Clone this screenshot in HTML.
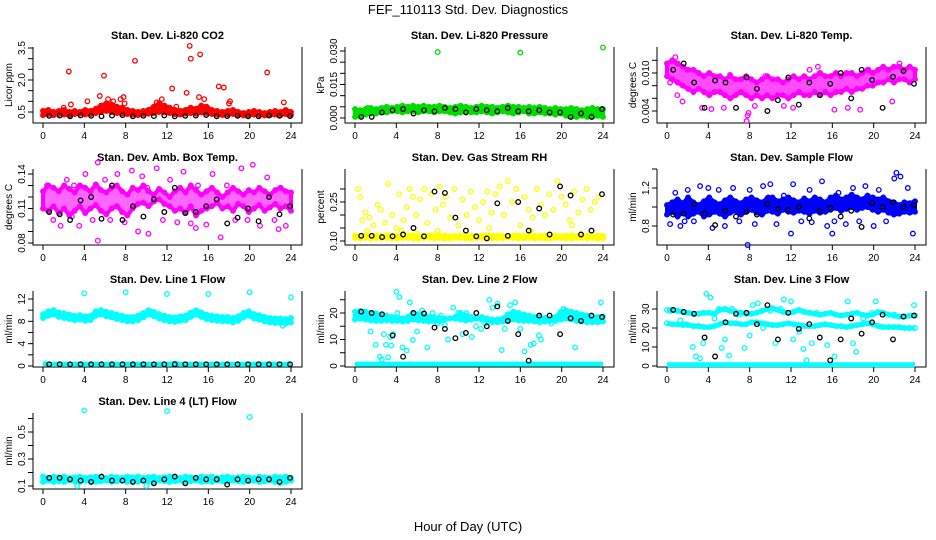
<!DOCTYPE html>
<html><head><meta charset="utf-8"><style>
html,body{margin:0;padding:0;background:#fff;}
svg{display:block;font-family:"Liberation Sans",sans-serif;}
</style></head>
<body>
<svg id="chart" width="936" height="540" viewBox="0 0 936 540" xmlns="http://www.w3.org/2000/svg">
<rect width="936" height="540" fill="#fff"/>
<text x="468" y="14" text-anchor="middle" font-size="13">FEF_110113  Std. Dev. Diagnostics</text>
<text x="468" y="531" text-anchor="middle" font-size="13">Hour of Day (UTC)</text>
</svg>
<script>
// ---------- data ----------
const xTicks = [0,4,8,12,16,20,24];

const co2BandA=[0.55,0.6,0.5,0.55,0.6,0.5,0.55,0.5,0.6,0.55,0.65,0.8,0.9,0.85,0.75,0.7,0.6,0.55,0.5,0.55,0.6,0.75,0.9,0.8,0.7,0.6,0.55,0.6,0.7,0.65,0.8,0.75,0.6,0.55,0.5,0.55,0.6,0.5,0.45,0.5,0.55,0.5,0.45,0.5,0.55,0.5,0.6,0.5];
const co2BandB=[0.35,0.4,0.35,0.4,0.38,0.35,0.4,0.42,0.38,0.4,0.45,0.5,0.55,0.5,0.45,0.42,0.4,0.38,0.35,0.4,0.42,0.45,0.5,0.48,0.45,0.4,0.38,0.42,0.45,0.42,0.48,0.45,0.4,0.38,0.36,0.38,0.4,0.36,0.34,0.36,0.38,0.36,0.34,0.36,0.38,0.35,0.4,0.36];
const co2OutX=[2.5,2.7,5.5,5.9,6.3,6.8,7.5,7.8,7.9,8.9,11,11.5,12.5,12.9,13.9,14.2,14.3,15.2,15.1,15.6,17,17.5,18,18.1,21.7,23.3,4.3,2];
const co2OutY=[2.4,0.85,1.25,2.2,1.1,1.0,1.1,1.2,0.9,2.9,0.95,1.1,1.6,0.75,1.4,3.6,3.0,3.2,1.2,1.1,1.7,1.65,0.9,1.0,2.35,0.95,1.0,0.7];
const co2Black=[0.32,0.33,0.3,0.34,0.32,0.3,0.33,0.35,0.3,0.32,0.31,0.34,0.3,0.32,0.33,0.36,0.3,0.31,0.32,0.3,0.3,0.33,0.32,0.31];

const presBandA=[0.004,0.0035,0.004,0.0045,0.004,0.0045,0.005,0.0045,0.005,0.0055,0.005,0.0055,0.005,0.0055,0.005,0.005,0.0055,0.005,0.0045,0.005,0.0055,0.005,0.0045,0.005,0.0055,0.005,0.005,0.0045,0.005,0.0055,0.005,0.005,0.0045,0.005,0.0045,0.005,0.0045,0.004,0.0045,0.004,0.004,0.0045,0.004,0.0035,0.004,0.0045,0.004,0.004];
const presBandB=[0.0005,0.001,0.0015,0.002,0.002,0.0025,0.0025,0.003,0.003,0.0025,0.003,0.003,0.0025,0.003,0.003,0.0025,0.003,0.003,0.0025,0.002,0.0025,0.003,0.0025,0.0025,0.003,0.0025,0.002,0.0025,0.003,0.0025,0.002,0.0025,0.003,0.002,0.002,0.0025,0.002,0.002,0.0015,0.002,0.001,0.0005,0.0005,0.001,0.0005,0.0005,0.001,0.0005];
const presOutX=[8,16,24,1.2,4.7];
const presOutY=[0.0295,0.0293,0.0315,0.0045,0.003];
const presBlack=[0.0005,0.0005,0.0025,0.0035,0.004,0.002,0.0035,0.003,0.0045,0.004,0.0025,0.004,0.0035,0.003,0.0045,0.003,0.003,0.0035,0.0025,0.0025,0.0005,0.002,0.0005,0.004];

const tempBandA=[0.0115,0.012,0.0115,0.011,0.0105,0.0105,0.01,0.0095,0.01,0.0095,0.0095,0.009,0.0095,0.009,0.009,0.0095,0.009,0.0085,0.009,0.0095,0.009,0.009,0.0085,0.009,0.0095,0.009,0.0095,0.009,0.0095,0.01,0.0095,0.0095,0.01,0.0095,0.01,0.01,0.0095,0.01,0.0105,0.01,0.0105,0.011,0.0105,0.011,0.011,0.0105,0.011,0.0105];
const tempBandB=[0.0095,0.009,0.0085,0.008,0.0075,0.007,0.0075,0.007,0.0065,0.007,0.007,0.0065,0.006,0.0065,0.007,0.0065,0.006,0.0065,0.006,0.0065,0.006,0.0065,0.0065,0.006,0.0065,0.007,0.0065,0.0065,0.007,0.0065,0.007,0.0065,0.007,0.007,0.0075,0.007,0.0075,0.0075,0.008,0.008,0.0085,0.0085,0.009,0.0085,0.009,0.009,0.0085,0.009];
const tempOutX=[0.3,0.8,1,1.5,2,7.7,7.8,7.9,3.4,5.5,9.5,11.3,13.8,16.2,17.5,19.5,21.8,22.5,12.2,14.6,8.5,6.1,4.3,18.7];
const tempOutY=[0.0085,0.0125,0.0065,0.0055,0.0105,0.0024,0.0033,0.0037,0.0045,0.0045,0.0095,0.0048,0.0105,0.0042,0.0045,0.0105,0.0055,0.0115,0.0045,0.011,0.0048,0.0097,0.0043,0.0042];
const tempBlack=[0.0105,0.0115,0.0085,0.0045,0.0088,0.0085,0.0045,0.0093,0.0075,0.004,0.0057,0.0093,0.005,0.0085,0.0065,0.0083,0.01,0.006,0.0105,0.0089,0.0045,0.0094,0.0103,0.0083];

const boxBandA=[0.125,0.13,0.128,0.125,0.13,0.127,0.124,0.13,0.128,0.125,0.131,0.126,0.124,0.128,0.13,0.125,0.122,0.128,0.126,0.13,0.125,0.122,0.127,0.124,0.12,0.125,0.128,0.124,0.13,0.126,0.122,0.125,0.128,0.124,0.12,0.124,0.128,0.125,0.122,0.126,0.124,0.128,0.125,0.122,0.126,0.128,0.125,0.124];
const boxBandB=[0.11,0.108,0.112,0.106,0.11,0.104,0.108,0.112,0.106,0.11,0.113,0.108,0.105,0.11,0.112,0.107,0.104,0.11,0.114,0.115,0.112,0.116,0.118,0.114,0.112,0.108,0.11,0.106,0.112,0.104,0.108,0.11,0.112,0.115,0.11,0.112,0.108,0.114,0.112,0.107,0.11,0.113,0.108,0.111,0.114,0.11,0.112,0.108];
const boxOutX=[0.4,1,1.7,2.3,3,3.5,4.1,4.8,5.3,6,6.5,7.2,7.9,8.6,9.2,9.6,10.2,11,11.6,12.3,13,13.6,14.3,15,15.8,16.4,17.2,17.8,18.6,19.2,19.8,20.3,21,21.7,22.4,23,23.5,2.8,10.1,14.8,22.8,5.3];
const boxOutY=[0.13,0.1,0.095,0.135,0.13,0.095,0.14,0.1,0.082,0.135,0.1,0.14,0.098,0.143,0.09,0.138,0.088,0.145,0.1,0.135,0.098,0.142,0.097,0.13,0.096,0.14,0.085,0.13,0.1,0.145,0.1,0.148,0.095,0.137,0.1,0.128,0.095,0.103,0.128,0.093,0.092,0.15];
const boxBlack=[0.107,0.105,0.1,0.117,0.12,0.101,0.13,0.1,0.112,0.103,0.118,0.107,0.128,0.106,0.107,0.112,0.118,0.097,0.102,0.11,0.099,0.12,0.105,0.112];

const rhBandA=[0.121,0.12,0.122,0.119,0.121,0.12,0.122,0.121,0.119,0.12,0.122,0.121,0.12,0.119,0.121,0.122,0.12,0.121,0.119,0.12,0.122,0.121,0.12,0.119,0.121,0.122,0.12,0.121,0.12,0.119,0.121,0.122,0.12,0.121,0.119,0.12,0.122,0.121,0.12,0.119,0.121,0.122,0.12,0.121,0.12,0.119,0.121,0.12];
const rhBandB=[0.111,0.11,0.112,0.109,0.111,0.11,0.112,0.11,0.109,0.111,0.112,0.11,0.109,0.111,0.112,0.11,0.111,0.109,0.11,0.112,0.111,0.11,0.109,0.111,0.112,0.11,0.109,0.111,0.11,0.112,0.111,0.109,0.11,0.112,0.11,0.111,0.109,0.11,0.112,0.111,0.11,0.109,0.111,0.112,0.11,0.111,0.109,0.11];
const rhOutX=[0.3,0.5,0.7,1,1.4,1.8,2.2,2.5,2.9,3.2,3.6,4,4.3,4.7,5,5.3,5.6,5.9,6.3,6.7,7,7.4,7.8,8.2,8.5,8.8,9.2,9.6,10,10.4,10.8,11.2,11.6,12,12.4,12.8,13.2,13.6,14,14.4,14.8,15.2,15.6,16,16.4,16.8,17.2,17.6,18,18.4,18.8,19.2,19.6,20,20.4,20.8,21.2,21.6,22,22.4,22.8,23.2,23.6,1.2,4.5,8,13,17,21,6];
const rhOutY=[0.3,0.27,0.18,0.21,0.19,0.16,0.24,0.22,0.17,0.32,0.2,0.15,0.28,0.18,0.23,0.3,0.27,0.2,0.26,0.3,0.17,0.28,0.22,0.31,0.24,0.27,0.19,0.3,0.16,0.26,0.2,0.29,0.23,0.18,0.25,0.29,0.21,0.28,0.31,0.2,0.33,0.25,0.3,0.16,0.27,0.22,0.19,0.3,0.24,0.2,0.28,0.22,0.33,0.27,0.24,0.18,0.29,0.21,0.26,0.3,0.22,0.25,0.27,0.14,0.14,0.14,0.15,0.14,0.16,0.13];
const rhBlack=[0.12,0.12,0.115,0.118,0.125,0.15,0.118,0.29,0.285,0.19,0.14,0.118,0.11,0.245,0.12,0.25,0.14,0.225,0.125,0.31,0.275,0.125,0.14,0.28];

const sfBandA=[1.02,1.05,1.08,1.04,1.1,1.05,1.02,1.06,1.1,1.05,1.03,1.07,1.1,1.06,1.04,1.08,1.1,1.07,1.05,1.09,1.1,1.06,1.08,1.1,1.07,1.05,1.09,1.06,1.1,1.08,1.05,1.1,1.12,1.08,1.1,1.13,1.1,1.08,1.12,1.1,1.08,1.1,1.06,1.05,1.02,1.05,1.04,1.06];
const sfBandB=[0.92,0.95,0.9,0.94,0.9,0.93,0.95,0.9,0.92,0.95,0.93,0.9,0.94,0.96,0.92,0.95,0.97,0.94,0.92,0.96,0.95,0.93,0.97,0.95,0.94,0.96,0.95,0.93,0.96,0.94,0.95,0.97,0.99,0.96,0.98,1.0,0.97,0.99,1.0,0.97,0.95,0.97,0.94,0.92,0.93,0.95,0.94,0.95];
const sfOutX=[0.3,0.8,1.3,2,2.6,3.2,4,4.4,5,5.6,6.4,7,7.8,8,8.5,9.3,10,10.6,11.3,12,12.2,13,13.8,14,15,15.5,16,16.6,17.3,18,18.6,19.2,20,20.5,21.2,22,22.2,22.6,23.3,23.8,1.7,9.8,16.2];
const sfOutY=[0.82,1.15,0.8,1.18,0.85,1.22,1.2,0.78,1.18,0.8,1.2,0.85,0.6,1.18,0.82,1.22,1.24,0.82,1.12,0.72,1.24,0.85,1.18,0.84,1.27,0.8,0.72,1.15,0.82,1.2,0.85,1.22,0.8,1.18,0.85,1.3,1.36,1.32,1.2,0.72,0.85,1.1,0.85];
const sfBlack=[0.92,0.93,1.03,0.93,0.81,0.96,0.9,0.95,0.92,1.03,0.98,0.97,1.0,0.88,0.96,0.99,0.9,0.96,0.79,1.04,1.0,1.05,1.0,1.02];

const l1BandA=[9.3,9.8,10,9.6,9.4,9.2,9,9.1,8.9,9,9.8,10,9.7,9.5,9.2,9.0,8.8,8.8,9.0,9.5,10,9.7,9.3,9.0,8.8,8.7,8.9,9.0,9.6,10,9.6,9.2,9.0,8.9,8.8,8.8,8.6,8.9,9.5,9.8,9.3,9.1,8.8,8.6,8.5,8.5,8.4,8.6];
const l1BandB=[8.6,9.0,9.2,8.8,8.6,8.4,8.2,8.3,8.1,8.2,9.0,9.2,8.9,8.7,8.4,8.2,8.0,8.0,8.2,8.7,9.2,8.9,8.5,8.2,8.0,7.9,8.1,8.2,8.8,9.2,8.8,8.4,8.2,8.1,8.0,8.0,7.8,8.1,8.7,9.0,8.5,8.3,8.0,7.8,7.7,7.7,7.6,7.8];
const l1Zero=[0.5,0.3,0.3,0.3,0.3,0.3,0.3,0.3,0.3,0.3,0.3,0.3,0.3,0.3,0.3,0.3,0.3,0.3,0.3,0.3,0.3,0.3,0.3,0.3,0.3,0.5,0.3,0.3,0.3,0.3,0.3,0.3,0.3,0.3,0.3,0.3,0.3,0.3,0.3,0.3,0.3,0.3,0.3,0.3,0.3,0.3,0.3,0.3];
const l1OutX=[4,8,12,16,20,24,23.2];
const l1OutY=[13,13.2,12.9,12.9,13.2,12.3,7.2];
const l1Black=[0.3,0.3,0.3,0.3,0.3,0.3,0.3,0.3,0.3,0.3,0.3,0.3,0.3,0.3,0.3,0.3,0.3,0.3,0.3,0.3,0.3,0.3,0.3,0.3];

const l2BandA=[20.5,20.8,20.5,20,19.8,19.5,19,18.5,18.3,18,18.5,20,19.5,19,18.5,18.5,18.2,18,18,18.5,20,19,18.5,18,18.5,18,17.5,17.5,18,19.5,20.5,20,19.5,19,18.5,18.5,18.2,18,18.5,20.5,21,20.5,20,19.5,19,18.5,18.5,18.7];
const l2BandB=[17.5,17.8,17.5,17.2,17,17,17.2,17,17,16.8,17,17.5,17.2,17,16.8,17,16.8,17.5,18,17.8,17.5,17.2,17.5,17.8,17.5,17,16.5,16.5,16.8,17,17.5,17.2,17,17,16.8,16.5,16.8,17,17,17.5,17.8,17.5,17,16.8,16.5,16.5,16.5,16.8];
const l2Zero=[0.7,0.7,0.7,0.7,0.7,0.7,0.7,0.7,0.7,0.7,0.7,0.7,0.7,0.7,0.7,0.7,0.7,0.7,0.7,0.7,0.7,0.7,0.7,0.7,0.7,0.7,0.7,0.7,0.7,0.7,0.7,0.7,0.7,0.7,0.7,0.7,0.7,0.7,0.7,0.7,0.7,0.7,0.7,0.7,0.7,0.7,0.7,0.7];
const l2OutX=[1.5,2,2.4,2.8,3,3.2,3.4,3.5,3.7,4,4.3,4.6,5,5.3,5.6,6,6.5,7,7.5,8,8.3,8.7,9,9.5,10,10.4,10.8,11.3,11.7,12.2,12.6,13,13.3,13.8,14.2,15,15.5,16,16.4,17,17.3,17.8,18,19,20.2,21.3,23.8,4.1,2.6,14.5];
const l2OutY=[13,8,3.5,12,8,3.3,11,7.7,12,28,26,7,5.8,24,9.8,13,21,7,20,16,19,15.5,10,22,20,12,20,11,15,14,16,25,22,23.5,6,23,24,14,5.5,8,8.5,11.5,10,16,21.5,7,24,20,2.5,14];
const l2Black=[20.5,20,19.5,11.5,3.5,20,19.8,14.5,14,10.5,12.5,20,15,22.5,17,12,2,19,19,12,18,17,19,18.5];

const l3BandA=[29.5,29.5,29,28.5,28,27.5,27.5,28,28,27.5,29.5,30,29,28.5,28,27.5,27.5,28,29,30,30.5,29.5,28.5,28,28.5,29.5,28.5,28,27.5,27,27.5,28,27,26.5,27,27.5,28,27,26.5,27,28.5,28,27,26.5,26,26,26.5,26.5];
const l3BandB=[22.5,22,22,21.5,21.5,21,21,20.5,20.5,21,22,23,22.5,22.5,22,22,23,23,22.5,22,21.5,21.5,22,22.5,22,21.5,21,21,21,21.5,22,21.5,21,21,20.5,21,21.5,22,22.5,22,21,20.5,20.5,20.5,20.5,20,20,20];
const l3Zero=[0.7,0.7,0.7,0.7,0.7,0.7,0.7,0.7,0.7,0.7,0.7,0.7,0.7,0.7,0.7,0.7,0.7,0.7,0.7,0.7,0.7,0.7,0.7,0.7,0.7,0.7,0.7,0.7,0.7,0.7,0.7,0.7,0.7,0.7,0.7,0.7,0.7,0.7,0.7,0.7,0.7,0.7,0.7,0.7,0.7,0.7,0.7,0.7];
const l3OutX=[1.3,1.8,2.5,2.8,3.2,3.5,3.8,4.2,4.6,5,5.3,5.6,6,6.3,7,7.5,8,8.3,8.8,9.3,10,10.5,11,11.3,12,12.2,12.8,13.2,13.5,14,14.5,15.5,16.2,17.5,18,18.3,19,19.8,20.2,23.9,0.3,22];
const l3OutY=[24,22,10,5,4,12,38,36,25,30,9.5,14,5.5,30,27,9.5,16,32,33,20,29,12,30,35,34,14,18,9,3,12,28,11,5,34,12,7.5,25,28,34,32,29,27];
const l3Black=[29.5,28.5,27.5,15,5,23,27.5,28,22,32,14,28,19.5,22,15,3,14,25,17,23,27,14,26,26.5];

const l4BandA=[0.17,0.16,0.17,0.165,0.17,0.16,0.165,0.17,0.16,0.165,0.17,0.165,0.16,0.17,0.165,0.16,0.17,0.165,0.17,0.16,0.165,0.17,0.16,0.165,0.17,0.165,0.16,0.17,0.165,0.16,0.17,0.165,0.17,0.16,0.165,0.17,0.16,0.165,0.17,0.165,0.16,0.17,0.165,0.16,0.17,0.165,0.17,0.16];
const l4BandB=[0.13,0.14,0.13,0.135,0.13,0.14,0.135,0.13,0.14,0.135,0.13,0.135,0.14,0.13,0.135,0.14,0.13,0.135,0.13,0.14,0.135,0.13,0.14,0.135,0.13,0.135,0.14,0.13,0.135,0.14,0.13,0.135,0.13,0.14,0.135,0.13,0.14,0.135,0.13,0.135,0.14,0.13,0.135,0.14,0.13,0.135,0.13,0.14];
const l4OutX=[4,12,20,3.3,10,23];
const l4OutY=[0.66,0.655,0.61,0.1,0.1,0.12];
const l4Black=[0.16,0.16,0.15,0.14,0.13,0.17,0.14,0.14,0.13,0.14,0.12,0.15,0.17,0.12,0.16,0.15,0.15,0.11,0.15,0.14,0.15,0.15,0.13,0.16];

// ---------- drawing ----------
const NS="http://www.w3.org/2000/svg";
const svg=document.getElementById('chart');
function mk(tag,parent){const e=document.createElementNS(NS,tag);parent.appendChild(e);return e;}

const panels=[
 {col:0,row:0,title:"Stan. Dev. Li-820 CO2",yt:"Licor ppm",color:"#ff0000",fill:1,cal:[0.5,112,3.5,48],ticks:[0.5,1,1.5,2,2.5,3,3.5],labels:[0.5,2.0,3.5],dec:1,bands:[co2BandA,co2BandB],ox:co2OutX,oy:co2OutY,blk:co2Black},
 {col:1,row:0,title:"Stan. Dev. Li-820 Pressure",yt:"kPa",color:"#00dd00",fill:1,cal:[0,118,0.03,51],ticks:[0,0.005,0.01,0.015,0.02,0.025,0.03],labels:[0,0.015,0.03],dec:3,bands:[presBandA,presBandB],ox:presOutX,oy:presOutY,blk:presBlack},
 {col:2,row:0,title:"Stan. Dev. Li-820 Temp.",yt:"degrees C",color:"#ff00ff",fill:0.7,cal:[0.004,111,0.01,73],ticks:[0.004,0.006,0.008,0.01,0.012],labels:[0.004,0.01],dec:3,bands:[tempBandA,tempBandB],ox:tempOutX,oy:tempOutY,blk:tempBlack},
 {col:0,row:1,title:"Stan. Dev. Amb. Box Temp.",yt:"degrees C",color:"#ff00ff",fill:0.6,cal:[0.08,243,0.14,174],ticks:[0.08,0.09,0.1,0.11,0.12,0.13,0.14],labels:[0.08,0.11,0.14],dec:2,bands:[boxBandA,boxBandB],ox:boxOutX,oy:boxOutY,blk:boxBlack},
 {col:1,row:1,title:"Stan. Dev. Gas Stream RH",yt:"percent",color:"#ffff00",fill:1,cal:[0.1,241,0.25,202],ticks:[0.1,0.15,0.2,0.25,0.3],labels:[0.1,0.25],dec:2,bands:[rhBandA,rhBandB],ox:rhOutX,oy:rhOutY,blk:rhBlack},
 {col:2,row:1,title:"Stan. Dev. Sample Flow",yt:"ml/min",color:"#0000ff",fill:1,cal:[0.8,226,1.2,188],ticks:[0.8,1.0,1.2,1.4],labels:[0.8,1.2],dec:1,bands:[sfBandA,sfBandB],ox:sfOutX,oy:sfOutY,blk:sfBlack},
 {col:0,row:2,title:"Stan. Dev. Line 1 Flow",yt:"ml/min",color:"#00ffff",fill:1,cal:[0,366,12,299],ticks:[0,2,4,6,8,10,12],labels:[0,4,8,12],dec:0,bands:[l1BandA,l1BandB],zero:l1Zero,ox:l1OutX,oy:l1OutY,blk:l1Black},
 {col:1,row:2,title:"Stan. Dev. Line 2 Flow",yt:"ml/min",color:"#00ffff",fill:1,cal:[0,366,20,313],ticks:[0,5,10,15,20,25],labels:[0,10,20],dec:0,bands:[l2BandA,l2BandB],zero:l2Zero,ox:l2OutX,oy:l2OutY,blk:l2Black},
 {col:2,row:2,title:"Stan. Dev. Line 3 Flow",yt:"ml/min",color:"#00ffff",fill:0,cal:[0,366,30,309],ticks:[0,10,20,30],labels:[0,10,20,30],dec:0,bands:[l3BandA,l3BandB],zero:l3Zero,ox:l3OutX,oy:l3OutY,blk:l3Black},
 {col:0,row:3,title:"Stan. Dev. Line 4 (LT) Flow",yt:"ml/min",color:"#00ffff",fill:1,cal:[0.1,486,0.5,432],ticks:[0.1,0.2,0.3,0.4,0.5,0.6],labels:[0.1,0.3,0.5],dec:1,bands:[l4BandA,l4BandB],ox:l4OutX,oy:l4OutY,blk:l4Black}
];

function circ(g,x,y,c,name){
  const e=mk('circle',g);
  e.setAttribute('cx',x.toFixed(1));e.setAttribute('cy',y.toFixed(1));e.setAttribute('r','2.3');
  e.setAttribute('fill','none');e.setAttribute('stroke',c);e.setAttribute('stroke-width','1.3');
  
  
}

panels.forEach((p,pi)=>{
  const L=33+312*p.col, R=L+269, T=47+122*p.row, B=T+76;
  const xS=h=>L+10+h*(248/24);
  const yS=v=>p.cal[1]+(v-p.cal[0])*(p.cal[3]-p.cal[1])/(p.cal[2]-p.cal[0]);
  const g=mk('g',svg);
  
  
  const t=mk('text',g);t.textContent=p.title;
  t.setAttribute('x',(L+R)/2);t.setAttribute('y',T-8);t.setAttribute('text-anchor','middle');
  t.setAttribute('font-size','11');t.setAttribute('font-weight','bold');
  
  
  const box=mk('path',g);
  box.setAttribute('d',`M${L},${T}V${B}H${R}V${T}`);box.setAttribute('fill','none');box.setAttribute('stroke','#000');box.setAttribute('stroke-width','1');
  
  
  xTicks.forEach(h=>{
    const x=xS(h);
    const l=mk('line',g);l.setAttribute('x1',x);l.setAttribute('x2',x);l.setAttribute('y1',B);l.setAttribute('y2',B+5);l.setAttribute('stroke','#000');
    
    
    const tx=mk('text',g);tx.textContent=h;tx.setAttribute('x',x);tx.setAttribute('y',B+16);tx.setAttribute('text-anchor','middle');tx.setAttribute('font-size','10');
    
    
  });
  p.ticks.forEach(v=>{
    const y=yS(v);
    const l=mk('line',g);l.setAttribute('x1',L-5);l.setAttribute('x2',L);l.setAttribute('y1',y);l.setAttribute('y2',y);l.setAttribute('stroke','#000');
    
    
  });
  p.labels.forEach(v=>{
    const y=yS(v);
    const tx=mk('text',g);tx.textContent=v.toFixed(p.dec);
    tx.setAttribute('transform',`translate(${L-8},${y}) rotate(-90)`);tx.setAttribute('text-anchor','middle');tx.setAttribute('font-size','10');
    
    
  });
  const yt=mk('text',g);yt.textContent=p.yt;
  yt.setAttribute('transform',`translate(${L-21},${(T+B)/2}) rotate(-90)`);yt.setAttribute('text-anchor','middle');yt.setAttribute('font-size','10');
  
  
  if(p.fill>0){
    const A=p.bands[0], Bb=p.bands[1];
    let pts=[];
    A.forEach((v,i)=>pts.push(xS(i*24/(A.length-1)).toFixed(1)+','+yS(v).toFixed(1)));
    for(let i=Bb.length-1;i>=0;i--) pts.push(xS(i*24/(Bb.length-1)).toFixed(1)+','+yS(Bb[i]).toFixed(1));
    const poly=mk('polygon',g);
    poly.setAttribute('points',pts.join(' '));
    poly.setAttribute('fill',p.color);poly.setAttribute('fill-opacity',p.fill);
    poly.setAttribute('stroke',p.color);poly.setAttribute('stroke-width','4');poly.setAttribute('stroke-linejoin','round');
    
    
  } else {
    p.bands.forEach(arr=>{
      const bl=mk('polyline',g);
      bl.setAttribute('points',arr.map((v,i)=>xS(i*24/(arr.length-1)).toFixed(1)+','+yS(v).toFixed(1)).join(' '));
      bl.setAttribute('fill','none');bl.setAttribute('stroke',p.color);bl.setAttribute('stroke-width','5');bl.setAttribute('stroke-linejoin','round');
      
      
    });
  }
  if(p.zero){
    const zl=mk('polyline',g);
    zl.setAttribute('points',p.zero.map((v,i)=>xS(i*24/(p.zero.length-1)).toFixed(1)+','+yS(v).toFixed(1)).join(' '));
    zl.setAttribute('fill','none');zl.setAttribute('stroke',p.color);zl.setAttribute('stroke-width','5');
    
    
  }
  p.bands.forEach(arr=>{
    arr.forEach((v,i)=>circ(g,xS(i*24/(arr.length-1)),yS(v),p.color,'point'));
  });
  p.ox.forEach((h,i)=>circ(g,xS(h),yS(p.oy[i]),p.color,'outlier-point'));
  p.blk.forEach((v,i)=>circ(g,xS(0.6+i*(23.3/(p.blk.length-1))),yS(v),'#000','hourly-point'));
});
</script>
</body></html>
